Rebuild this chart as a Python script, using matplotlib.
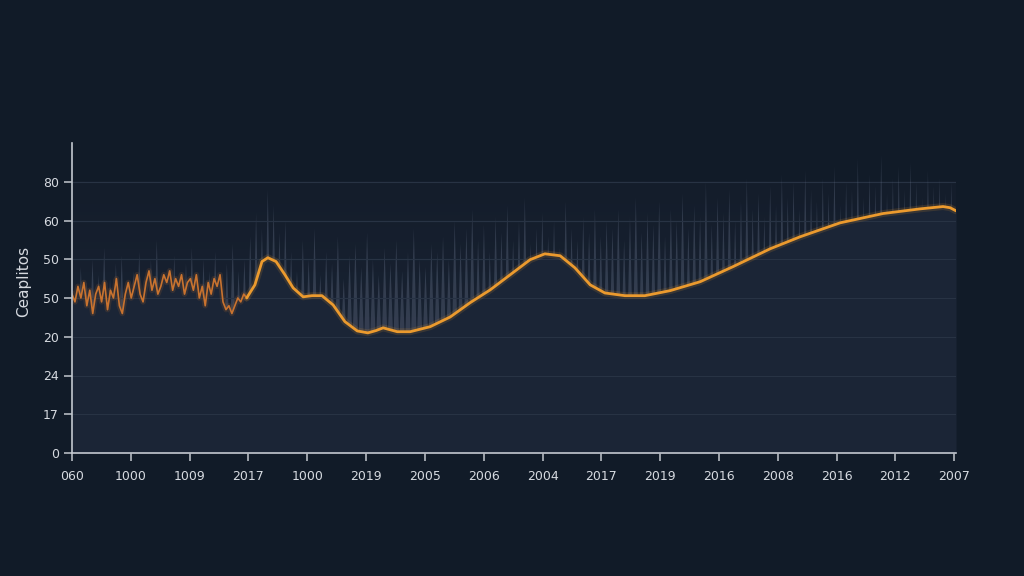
import numpy as np
import matplotlib
matplotlib.use("Agg")
import matplotlib.pyplot as plt

# ===============================
# DATA
# ===============================
x_labels = ["060", "1000", "1009", "2017", "1000", "2019", "2005", "2006",
            "2004", "2017", "2019", "2016", "2008", "2016", "2012", "2007"]
y_labels = ["0", "17", "24", "20", "50", "50", "60", "80"]
y_label = "Ceaplitos"

# noisy start of the line (x from 0 to 3)
noisy_y = [41, 39, 43, 40, 44, 38, 42, 36, 41, 43, 39, 44, 37, 42, 40, 45,
           38, 36, 41, 44, 40, 43, 46, 41, 39, 44, 47, 42, 45, 41, 43, 46,
           44, 47, 42, 45, 43, 46, 41, 44, 45, 42, 46, 40, 43, 38, 44, 41,
           45, 43, 46, 39, 37, 38, 36, 38, 40, 39, 41, 40]

# smooth part of the line
smooth_x = [2.99, 3.11, 3.23, 3.33, 3.47, 3.62, 3.76, 3.93, 4.08, 4.25, 4.44,
            4.64, 4.85, 5.03, 5.17, 5.29, 5.41, 5.53, 5.75, 6.09, 6.43, 6.77,
            7.11, 7.45, 7.79, 8.04, 8.30, 8.55, 8.81, 9.06, 9.40, 9.74, 10.17,
            10.68, 11.24, 11.87, 12.38, 13.06, 13.79, 14.42, 14.81, 14.93, 15.03]
smooth_y = [40.5, 43.4, 49.4, 50.4, 49.4, 46.0, 42.6, 40.3, 40.6, 40.6, 38.2,
            33.9, 31.5, 31.0, 31.6, 32.3, 31.8, 31.3, 31.3, 32.6, 35.1, 38.8,
            42.1, 46.0, 49.9, 51.4, 50.9, 47.8, 43.4, 41.3, 40.6, 40.6, 41.9,
            44.2, 48.1, 52.7, 55.8, 59.4, 61.8, 63.0, 63.6, 63.3, 62.5]

# grey background spikes (tops)
spike_top = [48, 44, 50, 46, 53, 45, 49, 51, 44, 47, 52, 46, 50, 55, 45, 48,
             51, 44, 49, 53, 46, 50, 47, 52, 45, 49, 54, 47,
             50, 56, 62, 58, 68, 64, 57, 60, 52,
             47, 55, 50, 58, 46, 52, 49, 56, 45, 51, 54, 48, 57, 50, 46, 53,
             49, 55, 47, 52, 58, 50, 48, 54,
             52, 56, 50, 60, 54, 58, 63, 55, 59, 52, 61, 57, 64, 55, 60, 66,
             54, 58, 62, 56, 60, 53, 65, 58, 55, 61, 57, 63, 56, 60,
             58, 63, 55, 61, 66, 57, 62, 59, 65, 56, 63, 60, 67, 58, 64, 61,
             70, 59, 66, 62, 68, 60, 65, 71, 63, 67, 61, 69, 64, 72,
             66, 70, 63, 73, 68, 65, 71, 67, 74, 64, 70, 68, 76, 66, 72, 69,
             77, 67, 71, 74, 68, 75, 70, 66, 73, 69, 71, 67, 70]
spike_base = 28

# ===============================
# STYLE
# ===============================
BG = "#111b28"
PANEL_BOTTOM = "#1c2637"
PANEL_TOP = "#141d2b"
UNDER = "#1b2536"
GRID = "#283344"
AXIS = "#c3c8cf"
TEXT = "#d6dae0"
ORANGE = "#eb9a2e"
ORANGE_DARK = "#c9732f"

fig = plt.figure(figsize=(10.24, 5.76), dpi=100, facecolor=BG)
ax = fig.add_axes([72 / 1024, 123 / 576, 884 / 1024, 310 / 576])
ax.set_facecolor(BG)
ax.set_xlim(0, 15.03)
ax.set_ylim(0, 80)

# panel gradient
grad = np.linspace(0, 1, 256).reshape(-1, 1)
cmap = matplotlib.colors.LinearSegmentedColormap.from_list("panel", [PANEL_BOTTOM, PANEL_TOP])
ax.imshow(grad, extent=[0, 15.03, 0, 70], origin="lower", aspect="auto",
          cmap=cmap, zorder=0)

# grid
for k in range(1, 8):
    ax.axhline(k * 10, color=GRID, lw=0.8, zorder=1)

# spikes
spike_x = np.linspace(0.15, 14.95, len(spike_top))
for sx, st in zip(spike_x, spike_top):
    ax.fill([sx - 0.05, sx, sx + 0.05], [spike_base, st, spike_base],
            color="#75819a", alpha=0.3, lw=0, zorder=2)

# fill under line (opaque, hides spike bases)
noisy_x = np.linspace(0, 2.97, len(noisy_y))
all_x = list(noisy_x) + smooth_x
all_y = noisy_y + smooth_y
ax.fill_between(all_x, 0, all_y, color=UNDER, lw=0, zorder=3)
for k in range(1, 7):
    ax.axhline(k * 10, color=GRID, lw=0.8, zorder=3.5)

# line with glow
ax.plot(noisy_x, noisy_y, color=ORANGE_DARK, lw=4, alpha=0.15, zorder=4)
ax.plot(noisy_x, noisy_y, color=ORANGE_DARK, lw=1.2, zorder=5)
ax.plot([noisy_x[-1]] + smooth_x, [noisy_y[-1]] + smooth_y, color=ORANGE,
        lw=5, alpha=0.15, zorder=4, solid_capstyle="round")
ax.plot([noisy_x[-1]] + smooth_x, [noisy_y[-1]] + smooth_y, color=ORANGE,
        lw=2, zorder=5, solid_capstyle="round")

# axes
for side in ["top", "right"]:
    ax.spines[side].set_visible(False)
for side in ["left", "bottom"]:
    ax.spines[side].set_color(AXIS)
    ax.spines[side].set_linewidth(1.2)
    ax.spines[side].set_zorder(6)

ax.set_xticks(range(16))
ax.set_xticklabels(x_labels)
ax.set_yticks(range(0, 80, 10))
ax.set_yticklabels(y_labels)
ax.tick_params(colors=AXIS, labelcolor=TEXT, labelsize=9, length=6, width=1.1)
ax.tick_params(axis="x", pad=6)
ax.set_ylabel(y_label, color=TEXT, fontsize=11)
ax.yaxis.set_label_coords(-0.046, 0.555)

fig.savefig("out.png", dpi=100, facecolor=BG)
